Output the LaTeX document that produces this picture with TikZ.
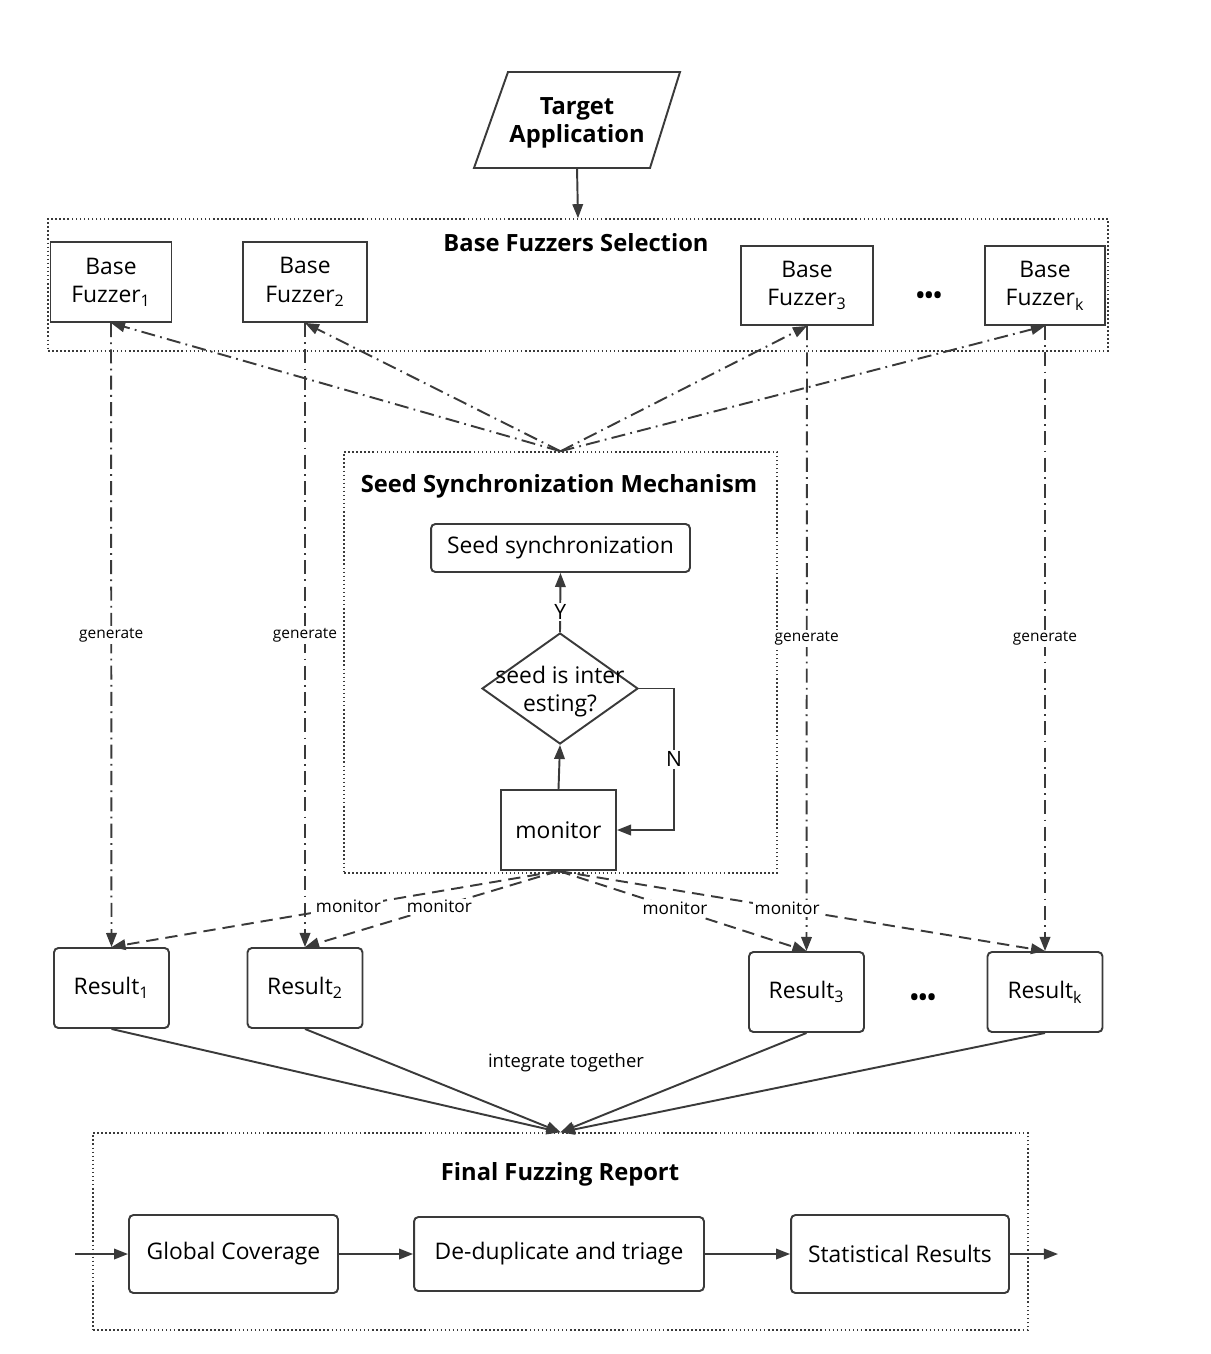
\documentclass[tikz,border=0pt]{standalone}
\usepackage{fontspec}
\setmainfont{Open Sans}
\usetikzlibrary{arrows.meta,shapes.geometric}
\definecolor{linegray}{HTML}{3A3A3A}

\begin{document}
\begin{tikzpicture}[x=0.02cm,y=-0.02cm,
  every node/.style={font=\fontsize{13}{16}\selectfont, text=black},
  line/.style={draw=linegray, line width=1.1pt},
  tip/.style={-{Triangle[length=8pt,width=6pt]}},
  frame/.style={draw=linegray, line width=0.9pt, dash pattern=on 0.9pt off 1.4pt, inner sep=0pt},
  fuzzbox/.style={draw=linegray, line width=1.1pt, align=center, inner sep=0pt},
  resbox/.style={fuzzbox, rounded corners=2.5pt},
  title/.style={font=\fontsize{13.5}{16}\selectfont\bfseries, align=center},
  genline/.style={line, dash pattern=on 8pt off 3pt on 1pt off 3pt},
  monline/.style={line, dash pattern=on 7pt off 4pt},
  genlabel/.style={font=\fontsize{8.8}{10}\selectfont, fill=white, inner sep=1pt},
  monlabel/.style={font=\fontsize{9.8}{11}\selectfont, fill=white, inner sep=1pt},
  yn/.style={font=\fontsize{12}{14}\selectfont, fill=white, inner sep=1pt}]

  \useasboundingbox (0,0) rectangle (1210,1354);

  % target application
  \draw[line] (508,72) -- (680,72) -- (650,168) -- (474,168) -- cycle;
  \node[title] (target) at (577,123) {Target\\Application};
  \coordinate (tbot) at (577,168);

  % base fuzzers selection
  \node[frame, minimum width=21.2cm, minimum height=2.64cm] (sel) at (578,285) {};
  \node[title] (seltitle) at (576,243) {Base Fuzzers Selection};
  \draw[line,tip] (tbot) -- (sel.north);

  \node[fuzzbox, minimum width=2.42cm, minimum height=1.6cm] (f1) at (111,282) {Base\\Fuzzer\textsubscript{1}};
  \node[fuzzbox, minimum width=2.48cm, minimum height=1.6cm] (f2) at (305,282) {Base\\Fuzzer\textsubscript{2}};
  \node[fuzzbox, minimum width=2.64cm, minimum height=1.58cm] (f3) at (807,285.5) {Base\\Fuzzer\textsubscript{3}};
  \node[fuzzbox, minimum width=2.4cm, minimum height=1.58cm] (fk) at (1045,285.5) {Base\\Fuzzer\textsubscript{k}};
  \node (fdots) at (929,298) {\textbf{•••}};

  % seed synchronization mechanism
  \node[frame, minimum width=8.66cm, minimum height=8.42cm] (seed) at (560.5,662.5) {};
  \node[title] (seedtitle) at (559,486) {Seed Synchronization Mechanism};
  \node[resbox, minimum width=5.18cm, minimum height=0.96cm] (sync) at (560.5,548) {Seed synchronization};
  \node[draw=linegray, line width=1.1pt, diamond, minimum width=3.12cm, minimum height=2.22cm, inner sep=0pt] (dec) at (560,688.5) {};
  \node[align=center] (dectext) at (560,692) {seed is inter\\esting?};
  \node[fuzzbox, minimum width=2.3cm, minimum height=1.6cm] (mon) at (558.5,830) {monitor};

  \draw[line,tip] (dec.north) -- (sync.south) node[pos=0.34, yn] (ylab) {Y};
  \draw[line,tip] (mon.north) -- (dec.south);
  \draw[line,tip] (dec.east) -- ++(35,0) |- (mon.east) node[pos=0.25, yn] (nlab) {N};

  % results
  \node[resbox, minimum width=2.3cm, minimum height=1.6cm] (r1) at (111.5,988) {Result\textsubscript{1}};
  \node[resbox, minimum width=2.3cm, minimum height=1.6cm] (r2) at (305,988) {Result\textsubscript{2}};
  \node[resbox, minimum width=2.3cm, minimum height=1.6cm] (r3) at (806.5,992) {Result\textsubscript{3}};
  \node[resbox, minimum width=2.3cm, minimum height=1.6cm] (rk) at (1045,992) {Result\textsubscript{k}};
  \node (rdots) at (923,1000) {\textbf{•••}};

  % seeds to fuzzers, fuzzers generate results
  \foreach \i in {1,2,3,k} {
    \draw[genline,tip] (seed.north) -- (f\i.south);
    \draw[genline,tip] (f\i.south) -- (r\i.north) node[midway, genlabel] (gen\i) {generate};
  }

  % monitor the results
  \foreach \i in {1,2,3,k}
    \draw[monline,tip] (mon.south) -- (r\i.north) node[pos=0.47, monlabel] (ml\i) {monitor};

  % final fuzzing report
  \node[frame, minimum width=18.7cm, minimum height=3.94cm] (final) at (560.5,1231.5) {};
  \node[title] (finaltitle) at (560,1174) {Final Fuzzing Report};

  \foreach \i in {1,2,3,k}
    \draw[line,tip] (r\i.south) -- (final.north);
  \node[font=\fontsize{10.5}{12}\selectfont] (integ) at (566,1063) {integrate together};

  \node[resbox, minimum width=4.18cm, minimum height=1.56cm] (cov) at (233.5,1254) {Global Coverage};
  \node[resbox, minimum width=5.8cm, minimum height=1.48cm] (dedup) at (559,1254) {De-duplicate and triage};
  \node[resbox, minimum width=4.36cm, minimum height=1.56cm] (stat) at (900,1254) {Statistical Results};
  \coordinate (in) at (75,1254);
  \coordinate (out) at (1058,1254);

  \draw[line,tip] (in) -- (cov);
  \draw[line,tip] (cov) -- (dedup);
  \draw[line,tip] (dedup) -- (stat);
  \draw[line,tip] (stat) -- (out);
\end{tikzpicture}
\end{document}
